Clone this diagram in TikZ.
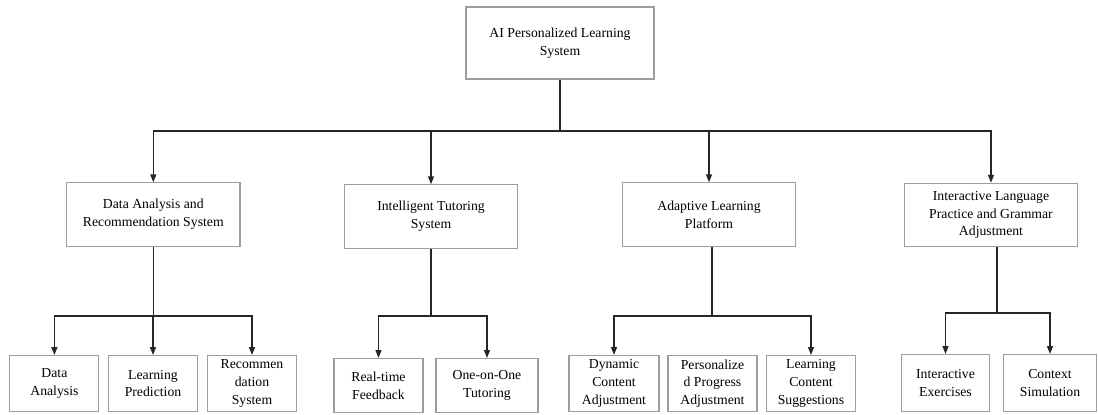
\documentclass[tikz,border=0pt]{standalone}
\usepackage{fontspec}
\setmainfont{Liberation Serif}
\usetikzlibrary{arrows.meta}
\tikzset{
  box/.style={draw=black!38, line width=0.8pt, align=center, inner sep=0pt,
    font=\fontsize{10.3}{13.3}\selectfont},
  midbox/.style={box, minimum width=130pt, minimum height=47.5pt},
  leaf/.style={box, anchor=north, minimum width=66.75pt, minimum height=42pt},
  link/.style={draw=black!85, line width=1.1pt},
  arr/.style={link, -{Triangle[length=6pt,width=4.5pt]}},
}

\begin{document}
\begin{tikzpicture}[x=0.75pt,y=-0.75pt]
\useasboundingbox (0,0) rectangle (1098,414);
% top and second level
\node[box, minimum width=141pt, minimum height=54pt] (root) at (560,43) {AI Personalized Learning\\System};
\node[midbox] (da) at (153.3,214.5) {Data Analysis and\\Recommendation System};
\node[midbox] (it) at (431,216.5) {Intelligent Tutoring\\System};
\node[midbox] (al) at (709,214.5) {Adaptive Learning\\Platform};
\node[midbox] (il) at (991,215) {Interactive Language\\Practice and Grammar\\Adjustment};
\coordinate (b0) at (560,131);
\draw[link] (root.south) -- (b0);
\foreach \n in {da,it,al,il}
  \draw[arr] (b0) -| (\n.north);
% leaves
\node[leaf] (da1) at (54.4,355) {Data\\Analysis};
\node[leaf] (da2) at (153,355) {Learning\\Prediction};
\node[leaf] (da3) at (252,355) {Recommen\\dation\\System};
\node[leaf, minimum height=40.5pt] (it1) at (378.5,358) {Real-time\\Feedback};
\node[leaf, minimum height=40.5pt, minimum width=76.5pt] (it2) at (487,358) {One-on-One\\Tutoring};
\node[leaf, minimum width=67.5pt] (al1) at (614,355) {Dynamic\\Content\\Adjustment};
\node[leaf] (al2) at (712.5,355) {Personalize\\d Progress\\Adjustment};
\node[leaf] (al3) at (811,355) {Learning\\Content\\Suggestions};
\node[leaf, minimum width=66pt, minimum height=43pt] (il1) at (945.5,354) {Interactive\\Exercises};
\node[leaf, minimum width=69.75pt, minimum height=43pt] (il2) at (1050,354) {Context\\Simulation};
% junctions below the second level
\coordinate (jda) at (153.3,316);
\coordinate (jit) at (431,316);
\coordinate (jal) at (712,316);
\coordinate (jil) at (997,313);
\draw[link] (da.south) -- (jda);
\draw[link] (it.south) -- (jit);
\draw[link] (jal |- al.south) -- (jal);
\draw[link] (jil |- il.south) -- (jil);
\foreach \n in {da1,da2,da3}
  \draw[arr] (jda) -| (\n.north);
\foreach \n in {it1,it2}
  \draw[arr] (jit) -| (\n.north);
\foreach \n in {al1,al3}
  \draw[arr] (jal) -| (\n.north);
\foreach \n in {il1,il2}
  \draw[arr] (jil) -| (\n.north);
\end{tikzpicture}
\end{document}
